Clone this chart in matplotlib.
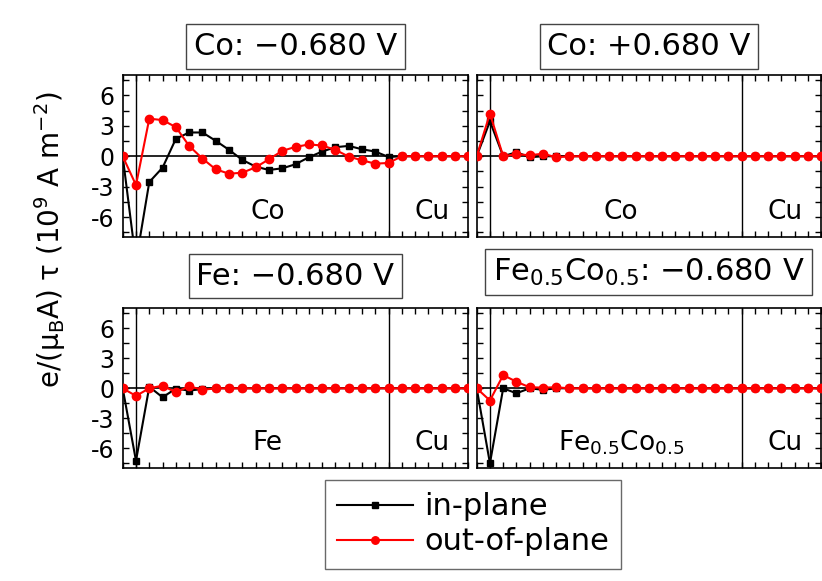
import numpy as np
import matplotlib
matplotlib.use("Agg")
import matplotlib.pyplot as plt

plt.rcParams['font.family'] = ['DejaVu Sans']
plt.rcParams['mathtext.default'] = 'regular'

# layer index (0 = interface side, 1..20 = magnet, 20..26 = Cu)
layers = np.arange(27)

# Co, -0.680 V
co_neg_in = [0, -10.4, -2.54, -1.12, 1.72, 2.34, 2.34, 1.52, 0.63, -0.36, -1.02, -1.35, -1.19,
             -0.79, -0.10, 0.46, 0.89, 1.02, 0.69, 0.46, -0.07, 0, 0, 0, 0, 0, 0]
co_neg_out = [0, -2.84, 3.70, 3.56, 2.87, 1.02, -0.23, -1.29, -1.72, -1.62, -1.09, -0.30, 0.53,
              0.92, 1.16, 1.06, 0.63, -0.03, -0.40, -0.73, -0.66, 0, 0, 0, 0, 0, 0]
# Co, +0.680 V
co_pos_in = [0, 3.45, 0, 0.4, -0.1] + [0] * 22
co_pos_out = [0, 4.2, 0, 0.2, 0.1, 0.25, -0.1] + [0] * 20
# Fe, -0.680 V
fe_in = [0, -7.25, 0.15, -0.9, -0.03, -0.23, -0.07] + [0] * 20
fe_out = [0, -0.76, 0, 0.26, -0.4, 0.2, -0.15] + [0] * 20
# Fe0.5Co0.5, -0.680 V
feco_in = [0, -7.5, 0, -0.5, 0, -0.15] + [0] * 21
feco_out = [0, -1.22, 1.32, 0.66, 0.1, 0.07, 0.1] + [0] * 20

titles = ["Co: \u22120.680 V", "Co: +0.680 V", "Fe: \u22120.680 V",
          "Fe$_{0.5}$Co$_{0.5}$: \u22120.680 V"]
layer_names = ["Co", "Co", "Fe", "Fe$_{0.5}$Co$_{0.5}$"]
ytick_vals = [-6, -3, 0, 3, 6]
ytick_labels = ["-6", "-3", "0", "3", "6"]

W, H = 822, 581
fig = plt.figure(figsize=(W / 100, H / 100), dpi=100)

# axes boxes in pixels: left, top, right, bottom
boxes = [(122.7, 75, 468.3, 237.5), (476.7, 75, 821, 237.5),
         (122.7, 308.3, 468.3, 468.3), (476.7, 308.3, 821, 468.3)]
title_y = [46.5, 46.5, 276.3, 272]
data = [(co_neg_in, co_neg_out), (co_pos_in, co_pos_out), (fe_in, fe_out), (feco_in, feco_out)]

for i, (l, t, r, b) in enumerate(boxes):
    ax = fig.add_axes([l / W, 1 - b / H, (r - l) / W, (b - t) / H])
    ax.axhline(0, color='black', lw=1.2, zorder=1)
    ax.axvline(1, color='black', lw=1.0, zorder=1)
    ax.axvline(20, color='black', lw=1.0, zorder=1)
    y_in, y_out = data[i]
    l1, = ax.plot(layers, y_in, color='black', marker='s', ms=5, lw=1.5, zorder=3, label='in-plane')
    l2, = ax.plot(layers, y_out, color='red', marker='o', ms=6, lw=1.5, zorder=4, label='out-of-plane')
    ax.set_xlim(0, 26)
    ax.set_ylim(-8, 8)
    ax.set_xticks(layers)
    ax.set_xticklabels([])
    ax.set_yticks(ytick_vals)
    ax.set_yticks([-7.5, -4.5, -1.5, 1.5, 4.5, 7.5], minor=True)
    if i % 2 == 0:
        ax.set_yticklabels(ytick_labels, fontsize=17)
    else:
        ax.set_yticklabels([])
    ax.tick_params(which='both', direction='in', length=4, width=1.0,
                   top=True, right=True, pad=6)
    for sp in ax.spines.values():
        sp.set_linewidth(1.2)
    ax.text(10.9, -6.2, layer_names[i], fontsize=19, ha='center', va='baseline')
    ax.text(23.3, -6.2, "Cu", fontsize=19, ha='center', va='baseline')
    fig.text((l + r) / 2 / W, 1 - title_y[i] / H, titles[i], fontsize=22, ha='center', va='center',
             bbox=dict(boxstyle='square,pad=0.25', fc='white', ec='#444444', lw=1.0))

fig.text(50 / W, 1 - 240 / H, "e/(\u03bc$_B$A) \u03c4 (10$^9$ A m$^{-2}$)", fontsize=20,
         rotation=90, ha='center', va='center')

leg = fig.legend(handles=[l1, l2], loc='center', bbox_to_anchor=(473 / W, 1 - 524.3 / H),
                 fontsize=22, frameon=True, fancybox=False, edgecolor='#444444',
                 handlelength=2.5, handletextpad=0.35, labelspacing=0.2, borderpad=0.4,
                 numpoints=1, markerscale=0.9)
leg.get_frame().set_linewidth(1.0)

fig.savefig("out.png", dpi=100)
